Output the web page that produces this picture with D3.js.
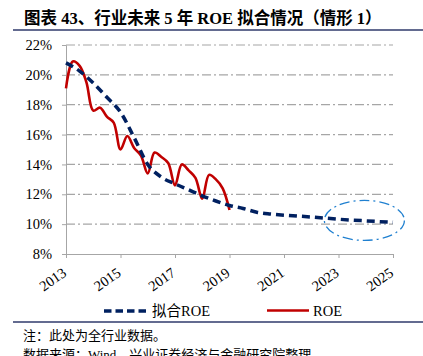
<!DOCTYPE html>
<html><head><meta charset="utf-8">
<script src="https://cdn.jsdelivr.net/npm/d3@7/dist/d3.min.js"></script>
<style>body{margin:0;background:#fff}svg{display:block}</style>
</head><body>
<script>
const title = "图表 43、行业未来 5 年 ROE 拟合情况（情形 1）";
const notes = ["注：此处为全行业数据。", "数据来源：Wind，兴业证券经济与金融研究院整理"];
const yTicks = [8, 10, 12, 14, 16, 18, 20, 22];
const xTicks = [2013, 2015, 2017, 2019, 2021, 2023, 2025];
// ROE quarterly, 2013Q1 .. 2019Q1
const roeStart = 2013;
const roeValues = [19.1, 20.9, 20.6, 19.5, 17.6, 17.8, 17.2, 16.8, 15.0, 15.9, 15.1, 14.6,
  13.4, 14.8, 14.5, 14.1, 12.6, 14.0, 13.6, 13.1, 11.7, 13.3, 13.0, 12.4, 10.95];
// fitted ROE
const fitYears = [2013, 2013.5, 2014, 2014.5, 2015, 2015.5, 2016, 2016.5, 2017, 2017.5, 2018, 2018.5,
  2019, 2019.5, 2020, 2020.5, 2021, 2022, 2023, 2024, 2025];
const fitValues = [20.8, 20.25, 19.45, 18.5, 17.5, 15.8, 14.0, 13.15, 12.7, 12.3, 11.9, 11.55,
  11.25, 11.05, 10.8, 10.68, 10.6, 10.48, 10.33, 10.22, 10.12];
const legendLabels = ["拟合ROE", "ROE"];

const W = 423, H = 356;
const svg = d3.select("body").append("svg").attr("width", W).attr("height", H);
const serif = "'Liberation Serif','Times New Roman','Noto Sans CJK SC',serif";

const x = d3.scaleLinear().domain([2013, 2025]).range([66, 393]);
const y = d3.scaleLinear().domain([8, 22]).range([254, 45]);

// title
svg.append("text").attr("x", 24).attr("y", 24).text(title)
  .attr("font-family", "'Liberation Serif','Noto Sans CJK SC',serif").attr("font-weight", "bold")
  .attr("font-size", 16.5).attr("fill", "#000");
svg.append("line").attr("x1", 13).attr("x2", 423).attr("y1", 30).attr("y2", 30)
  .attr("stroke", "#2f3a6b").attr("stroke-width", 1.5);

// grid
svg.append("g").selectAll("line").data(yTicks.filter(d => d > 8)).join("line")
  .attr("x1", x(2013)).attr("x2", x(2025)).attr("y1", d => y(d)).attr("y2", d => y(d))
  .attr("stroke", "#a6a6a6").attr("stroke-width", 1.2).attr("stroke-dasharray", "9,3,2,3");

// axes
const yAxis = d3.axisLeft(y).tickValues(yTicks).tickFormat(d => d + "%").tickSize(4).tickPadding(10);
const gy = svg.append("g").attr("transform", `translate(${x(2013)},0)`).call(yAxis);
gy.select(".domain").attr("stroke", "#a6a6a6");
gy.selectAll(".tick line").attr("stroke", "#a6a6a6");
gy.selectAll("text").attr("font-family", serif).attr("font-size", 14.5).attr("fill", "#000");

const xAxis = d3.axisBottom(x).tickValues(xTicks).tickFormat(d3.format("d")).tickSize(4).tickSizeOuter(0);
const gx = svg.append("g").attr("transform", `translate(0,${y(8)})`).call(xAxis);
gx.select(".domain").attr("stroke", "#a6a6a6");
gx.selectAll(".tick line").attr("stroke", "#a6a6a6");
gx.selectAll("text").attr("font-family", serif).attr("font-size", 14.5).attr("fill", "#000")
  .attr("text-anchor", "end").attr("dy", null).attr("y", 0)
  .attr("transform", "translate(1,21) rotate(-35)");

// lines
const fitData = fitYears.map((t, i) => [t, fitValues[i]]);
const roeData = roeValues.map((v, i) => [roeStart + i / 4, v]);
const line = d3.line().x(d => x(d[0])).y(d => y(d[1])).curve(d3.curveMonotoneX);
const lineR = d3.line().x(d => x(d[0])).y(d => y(d[1])).curve(d3.curveCatmullRom.alpha(0.5));
svg.append("path").attr("d", lineR(roeData)).attr("fill", "none")
  .attr("stroke", "#c00000").attr("stroke-width", 2.6);
svg.append("path").attr("d", line(fitData)).attr("fill", "none")
  .attr("stroke", "#002060").attr("stroke-width", 3.5).attr("stroke-dasharray", "8,5");

// ellipse highlight
svg.append("ellipse").attr("cx", x(2023.95)).attr("cy", y(10.25)).attr("rx", 40).attr("ry", 20)
  .attr("fill", "none").attr("stroke", "#2080d0").attr("stroke-width", 1.3)
  .attr("stroke-dasharray", "10,4,2,4");

// legend
const lg = svg.append("g");
lg.append("line").attr("x1", 104).attr("x2", 147).attr("y1", 311).attr("y2", 311)
  .attr("stroke", "#002060").attr("stroke-width", 3.5).attr("stroke-dasharray", "7.5,4");
lg.append("text").attr("x", 152).attr("y", 316).text(legendLabels[0])
  .attr("font-family", serif).attr("font-size", 14.5);
lg.append("line").attr("x1", 267).attr("x2", 309).attr("y1", 310.5).attr("y2", 310.5)
  .attr("stroke", "#c00000").attr("stroke-width", 2.6);
lg.append("text").attr("x", 313).attr("y", 316).text(legendLabels[1])
  .attr("font-family", serif).attr("font-size", 14.5);

svg.append("line").attr("x1", 13).attr("x2", 423).attr("y1", 322).attr("y2", 322)
  .attr("stroke", "#2f3a6b").attr("stroke-width", 1.5);

svg.selectAll(".note").data(notes).join("text").attr("class", "note")
  .attr("x", 23).attr("y", (d, i) => 340 + i * 19).text(d => d)
  .attr("font-family", "'Liberation Serif','Noto Sans CJK SC',serif").attr("font-size", 13);
</script>
</body></html>
